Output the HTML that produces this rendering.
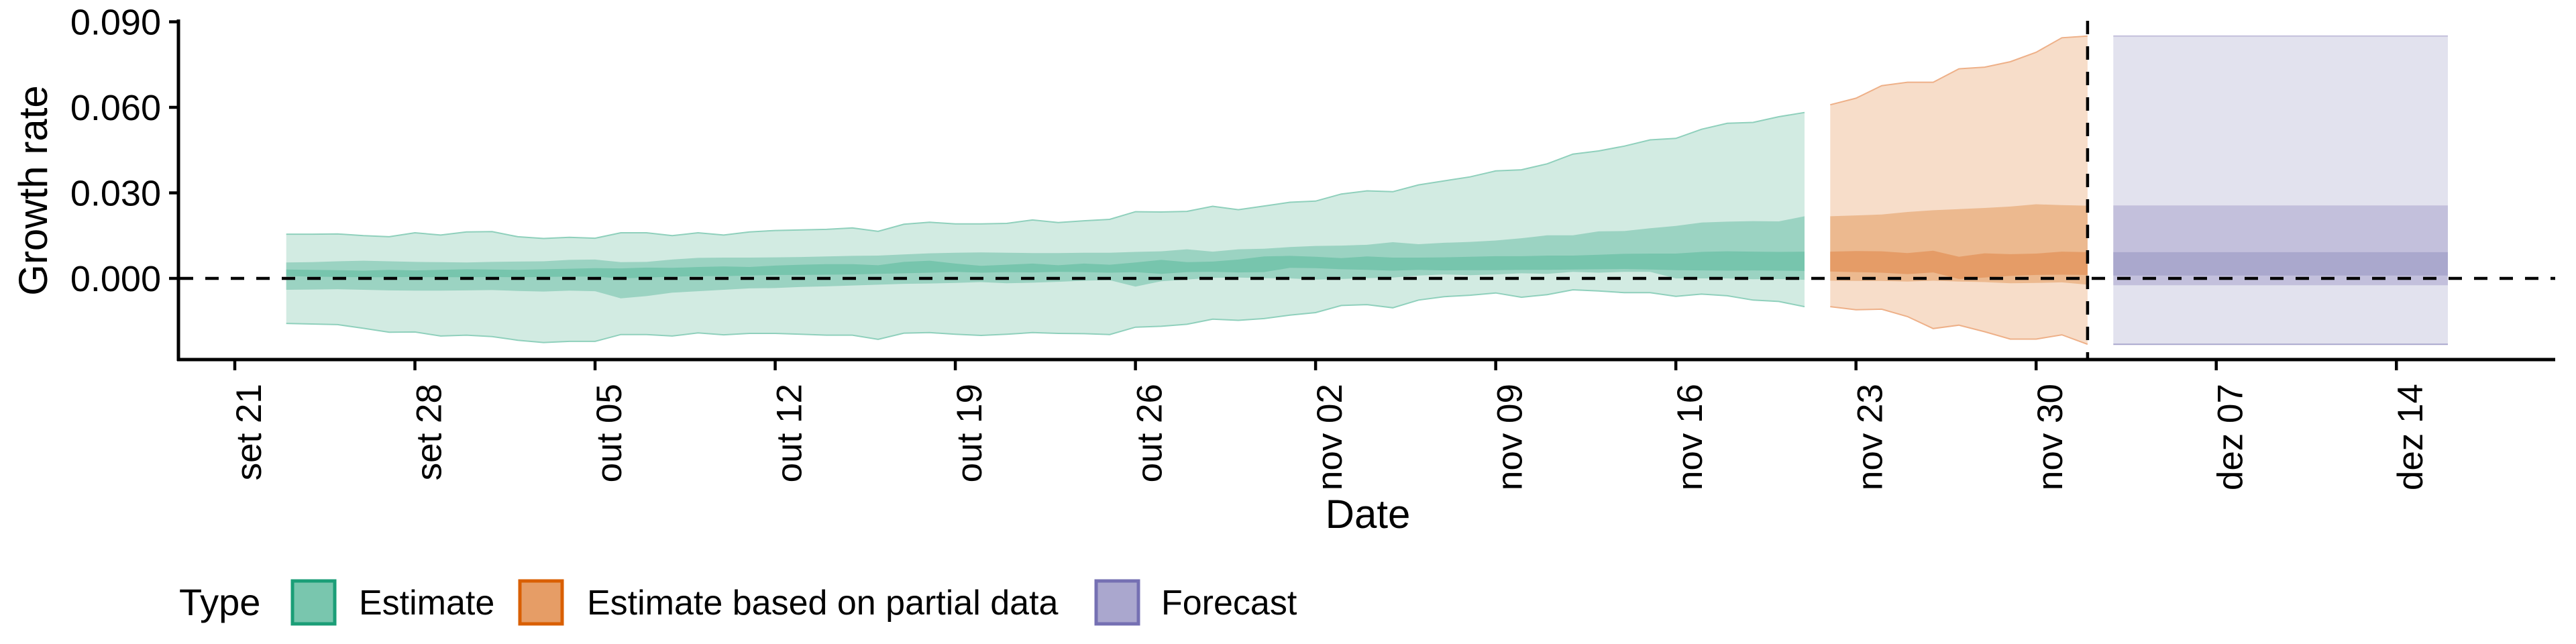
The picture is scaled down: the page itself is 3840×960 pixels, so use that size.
<!DOCTYPE html>
<html><head><meta charset="utf-8"><style>
html,body{margin:0;padding:0;background:#fff;}
svg{display:block;font-family:"Liberation Sans",sans-serif;}
</style></head><body>
<svg id="chart" width="3840" height="960" viewBox="0 0 3840 960" xmlns="http://www.w3.org/2000/svg">
  <rect x="0" y="0" width="3840" height="960" fill="#fff"/>
  <g id="bands"></g>
  <g id="refs"></g>
  <g id="axes"></g>
  <text x="0" y="0" transform="translate(70,284) rotate(-90)" text-anchor="middle" font-size="60" fill="#000">Growth rate</text>
  <text x="2039" y="787" text-anchor="middle" font-size="60" fill="#000">Date</text>
  <g>
    <text x="267" y="917" font-size="56" fill="#000">Type</text>
    <g>
      <rect x="436" y="866" width="63" height="64" fill="#79c6ae" stroke="#1b9e77" stroke-width="5"/>
      <text x="535" y="916" font-size="52" fill="#000">Estimate</text>
    </g>
    <g>
      <rect x="775" y="866" width="63" height="64" fill="#e69d66" stroke="#d95f02" stroke-width="5"/>
      <text x="875" y="916" font-size="52" fill="#000">Estimate based on partial data</text>
    </g>
    <g>
      <rect x="1634" y="866" width="63" height="64" fill="#aaa7ce" stroke="#7570b3" stroke-width="5"/>
      <text x="1731" y="916" font-size="52" fill="#000">Forecast</text>
    </g>
  </g>
</svg>
<script>
const estStart = "2020-09-23";
const estL90 = [-0.0158,-0.0160,-0.0162,-0.0175,-0.0189,-0.0188,-0.0202,-0.0199,-0.0204,-0.0217,-0.0225,-0.0221,-0.0221,-0.0197,-0.0197,-0.0202,-0.0191,-0.0198,-0.0193,-0.0193,-0.0196,-0.0199,-0.0199,-0.0214,-0.0192,-0.0190,-0.0196,-0.0200,-0.0196,-0.0190,-0.0193,-0.0194,-0.0197,-0.0171,-0.0168,-0.0161,-0.0143,-0.0147,-0.0141,-0.0129,-0.0120,-0.0095,-0.0092,-0.0103,-0.0076,-0.0064,-0.0059,-0.0051,-0.0066,-0.0057,-0.0040,-0.0044,-0.0050,-0.0050,-0.0063,-0.0055,-0.0061,-0.0076,-0.0081,-0.0099];
const estU90 = [0.0155,0.0155,0.0156,0.0150,0.0146,0.0160,0.0152,0.0163,0.0164,0.0146,0.0140,0.0144,0.0141,0.0160,0.0160,0.0150,0.0160,0.0152,0.0163,0.0168,0.0170,0.0172,0.0177,0.0165,0.0190,0.0197,0.0191,0.0191,0.0193,0.0205,0.0196,0.0202,0.0207,0.0234,0.0233,0.0235,0.0253,0.0241,0.0254,0.0267,0.0271,0.0296,0.0307,0.0304,0.0328,0.0342,0.0356,0.0377,0.0381,0.0402,0.0436,0.0447,0.0464,0.0486,0.0491,0.0523,0.0544,0.0547,0.0567,0.0582];
const estL50 = [-0.0040,-0.0039,-0.0038,-0.0040,-0.0042,-0.0043,-0.0043,-0.0042,-0.0041,-0.0044,-0.0046,-0.0043,-0.0045,-0.0070,-0.0062,-0.0050,-0.0045,-0.0040,-0.0035,-0.0034,-0.0030,-0.0028,-0.0025,-0.0022,-0.0019,-0.0018,-0.0016,-0.0013,-0.0017,-0.0015,-0.0012,-0.0008,-0.0006,-0.0029,-0.0010,-0.0004,0.0002,0.0003,0.0001,0.0000,-0.0004,-0.0002,0.0001,0.0003,0.0010,0.0014,0.0011,0.0014,0.0018,0.0016,0.0023,0.0020,0.0023,0.0023,0.0000,0.0000,0.0000,-0.0003,-0.0002,-0.0005];
const estU50 = [0.0056,0.0057,0.0060,0.0062,0.0060,0.0058,0.0057,0.0056,0.0058,0.0059,0.0060,0.0065,0.0066,0.0057,0.0058,0.0066,0.0072,0.0073,0.0073,0.0074,0.0075,0.0077,0.0079,0.0080,0.0084,0.0088,0.0090,0.0091,0.0090,0.0089,0.0089,0.0090,0.0090,0.0093,0.0095,0.0102,0.0094,0.0102,0.0104,0.0110,0.0114,0.0115,0.0118,0.0127,0.0120,0.0125,0.0128,0.0133,0.0141,0.0151,0.0151,0.0165,0.0166,0.0176,0.0184,0.0196,0.0199,0.0201,0.0200,0.0218];
const estL20 = [0.0008,0.0006,0.0005,0.0004,0.0004,0.0005,0.0004,0.0004,0.0005,0.0004,0.0005,0.0006,0.0006,0.0000,0.0003,0.0006,0.0008,0.0008,0.0010,0.0012,0.0012,0.0013,0.0014,0.0016,0.0018,0.0020,0.0023,0.0020,0.0022,0.0021,0.0023,0.0022,0.0020,0.0022,0.0016,0.0022,0.0023,0.0021,0.0022,0.0037,0.0036,0.0032,0.0030,0.0027,0.0030,0.0028,0.0029,0.0029,0.0030,0.0030,0.0031,0.0032,0.0033,0.0031,0.0029,0.0028,0.0027,0.0028,0.0027,0.0026];
const estU20 = [0.0031,0.0030,0.0029,0.0027,0.0030,0.0028,0.0030,0.0032,0.0031,0.0030,0.0032,0.0034,0.0036,0.0035,0.0038,0.0037,0.0040,0.0042,0.0040,0.0045,0.0048,0.0050,0.0050,0.0046,0.0058,0.0062,0.0052,0.0044,0.0048,0.0052,0.0046,0.0052,0.0048,0.0056,0.0065,0.0057,0.0059,0.0066,0.0077,0.0079,0.0076,0.0071,0.0077,0.0073,0.0073,0.0074,0.0076,0.0078,0.0078,0.0080,0.0080,0.0083,0.0086,0.0087,0.0087,0.0093,0.0095,0.0094,0.0093,0.0094];

const partStart = "2020-11-22";
const partL90 = [-0.0099,-0.0110,-0.0108,-0.0134,-0.0176,-0.0164,-0.0187,-0.0213,-0.0213,-0.0198,-0.0231];
const partU90 = [0.0609,0.0632,0.0676,0.0688,0.0688,0.0735,0.0741,0.0760,0.0793,0.0844,0.0850];
const partL50 = [-0.0008,-0.0009,-0.0009,-0.0011,-0.0008,-0.0011,-0.0013,-0.0017,-0.0016,-0.0014,-0.0022];
const partU50 = [0.0218,0.0221,0.0224,0.0233,0.0239,0.0243,0.0247,0.0252,0.0260,0.0257,0.0255];
const partL20 = [0.0024,0.0022,0.0020,0.0015,0.0021,-0.0002,0.0003,0.0009,0.0012,0.0013,0.0012];
const partU20 = [0.0094,0.0096,0.0095,0.0089,0.0097,0.0076,0.0088,0.0085,0.0087,0.0094,0.0092];

const fcStart = "2020-12-03";
const fcL90 = [-0.0231,-0.0231,-0.0231,-0.0231,-0.0231,-0.0231,-0.0231,-0.0231,-0.0231,-0.0231,-0.0231,-0.0231,-0.0231,-0.0231];
const fcU90 = [0.0850,0.0850,0.0850,0.0850,0.0850,0.0850,0.0850,0.0850,0.0850,0.0850,0.0850,0.0850,0.0850,0.0850];
const fcL50 = [-0.0024,-0.0024,-0.0024,-0.0024,-0.0024,-0.0024,-0.0024,-0.0024,-0.0024,-0.0024,-0.0024,-0.0024,-0.0024,-0.0024];
const fcU50 = [0.0256,0.0256,0.0256,0.0256,0.0256,0.0256,0.0256,0.0256,0.0256,0.0256,0.0256,0.0256,0.0256,0.0256];
const fcL20 = [0.0010,0.0010,0.0010,0.0010,0.0010,0.0010,0.0010,0.0010,0.0010,0.0010,0.0010,0.0010,0.0010,0.0010];
const fcU20 = [0.0092,0.0092,0.0092,0.0092,0.0092,0.0092,0.0092,0.0092,0.0092,0.0092,0.0092,0.0092,0.0092,0.0092];

const dataCutoff = "2020-12-02";
const yTicks = [0.000, 0.030, 0.060, 0.090];
const yTickLabels = ["0.000", "0.030", "0.060", "0.090"];
const xTickDates = ["2020-09-21","2020-09-28","2020-10-05","2020-10-12","2020-10-19","2020-10-26","2020-11-02","2020-11-09","2020-11-16","2020-11-23","2020-11-30","2020-12-07","2020-12-14"];
const xTickLabels = ["set 21","set 28","out 05","out 12","out 19","out 26","nov 02","nov 09","nov 16","nov 23","nov 30","dez 07","dez 14"];

const NS = "http://www.w3.org/2000/svg";
const ORIGIN = Date.UTC(2020, 8, 21);
function dayOf(s){ const p = s.split("-"); return (Date.UTC(+p[0], +p[1]-1, +p[2]) - ORIGIN) / 86400000; }
function xScale(d){ return 350 + 38.36 * d; }
function yScale(v){ return 415 - 4250 * v; }

const bands = document.getElementById("bands");
function ribbon(start, lo, hi, fill, name){
  const d0 = dayOf(start);
  let pts = [];
  for (let i = 0; i < hi.length; i++) pts.push(xScale(d0+i).toFixed(1)+","+yScale(hi[i]).toFixed(1));
  for (let i = lo.length-1; i >= 0; i--) pts.push(xScale(d0+i).toFixed(1)+","+yScale(lo[i]).toFixed(1));
  const p = document.createElementNS(NS, "polygon");
  p.setAttribute("points", pts.join(" "));
  p.setAttribute("fill", fill);
  
  
  bands.appendChild(p);
}
function edge(start, vals, stroke, name){
  const d0 = dayOf(start);
  let pts = [];
  for (let i = 0; i < vals.length; i++) pts.push(xScale(d0+i).toFixed(1)+","+yScale(vals[i]).toFixed(1));
  const l = document.createElementNS(NS, "polyline");
  l.setAttribute("points", pts.join(" "));
  l.setAttribute("fill", "none");
  l.setAttribute("stroke", stroke);
  l.setAttribute("stroke-width", "2");
  
  
  bands.appendChild(l);
}
ribbon(estStart, estL90, estU90, "#d2ebe2", "estimate-band-90");
ribbon(estStart, estL50, estU50, "#9bd3c2", "estimate-band-50");
ribbon(estStart, estL20, estU20, "#77c5ad", "estimate-band-20");
edge(estStart, estU90, "#8fd0bc", "estimate-upper-edge");
edge(estStart, estL90, "#8fd0bc", "estimate-lower-edge");
ribbon(partStart, partL90, partU90, "#f7ddc9", "partial-band-90");
ribbon(partStart, partL50, partU50, "#ecb98f", "partial-band-50");
ribbon(partStart, partL20, partU20, "#e59c67", "partial-band-20");
edge(partStart, partU90, "#eeb088", "partial-upper-edge");
edge(partStart, partL90, "#eeb088", "partial-lower-edge");
ribbon(fcStart, fcL90, fcU90, "#e2e2ee", "forecast-band-90");
ribbon(fcStart, fcL50, fcU50, "#c3c0dc", "forecast-band-50");
ribbon(fcStart, fcL20, fcU20, "#aaa8cd", "forecast-band-20");
edge(fcStart, fcU90, "#c3c0dc", "forecast-upper-edge");
edge(fcStart, fcL90, "#aaa8cd", "forecast-lower-edge");

const refs = document.getElementById("refs");
const hz = document.createElementNS(NS, "line");
hz.setAttribute("x1", 268); hz.setAttribute("x2", 3809);
hz.setAttribute("y1", yScale(0)); hz.setAttribute("y2", yScale(0));
hz.setAttribute("stroke", "#000"); hz.setAttribute("stroke-width", "4.5"); hz.setAttribute("stroke-dasharray", "20 18");


refs.appendChild(hz);
const vt = document.createElementNS(NS, "line");
const cx = xScale(dayOf(dataCutoff));
vt.setAttribute("x1", cx); vt.setAttribute("x2", cx);
vt.setAttribute("y1", 31); vt.setAttribute("y2", 536);
vt.setAttribute("stroke", "#000"); vt.setAttribute("stroke-width", "4.5"); vt.setAttribute("stroke-dasharray", "20 18");


refs.appendChild(vt);

const axes = document.getElementById("axes");
const ya = document.createElementNS(NS, "line");
ya.setAttribute("x1", 266); ya.setAttribute("x2", 266); ya.setAttribute("y1", 29); ya.setAttribute("y2", 538);
ya.setAttribute("stroke", "#000"); ya.setAttribute("stroke-width", "5");


axes.appendChild(ya);
const xa = document.createElementNS(NS, "line");
xa.setAttribute("x1", 264); xa.setAttribute("x2", 3809); xa.setAttribute("y1", 536); xa.setAttribute("y2", 536);
xa.setAttribute("stroke", "#000"); xa.setAttribute("stroke-width", "5");


axes.appendChild(xa);

for (let i = 0; i < yTicks.length; i++){
  const yy = yScale(yTicks[i]);
  const t = document.createElementNS(NS, "line");
  t.setAttribute("x1", 252); t.setAttribute("x2", 266); t.setAttribute("y1", yy); t.setAttribute("y2", yy);
  t.setAttribute("stroke", "#000"); t.setAttribute("stroke-width", "4.5");
  
  
  axes.appendChild(t);
  const lb = document.createElementNS(NS, "text");
  lb.setAttribute("x", 240); lb.setAttribute("y", yy + 19);
  lb.setAttribute("text-anchor", "end"); lb.setAttribute("font-size", "54");
  lb.textContent = yTickLabels[i];
  
  
  axes.appendChild(lb);
}
for (let i = 0; i < xTickDates.length; i++){
  const xx = xScale(dayOf(xTickDates[i]));
  const t = document.createElementNS(NS, "line");
  t.setAttribute("x1", xx); t.setAttribute("x2", xx); t.setAttribute("y1", 536); t.setAttribute("y2", 552);
  t.setAttribute("stroke", "#000"); t.setAttribute("stroke-width", "4.5");
  
  
  axes.appendChild(t);
  const lb = document.createElementNS(NS, "text");
  lb.setAttribute("x", 0); lb.setAttribute("y", 0);
  lb.setAttribute("transform", "translate(" + (xx + 39) + ",572) rotate(-90)");
  lb.setAttribute("text-anchor", "end"); lb.setAttribute("font-size", "53");
  lb.textContent = xTickLabels[i];
  
  
  axes.appendChild(lb);
}
</script>
</body></html>
